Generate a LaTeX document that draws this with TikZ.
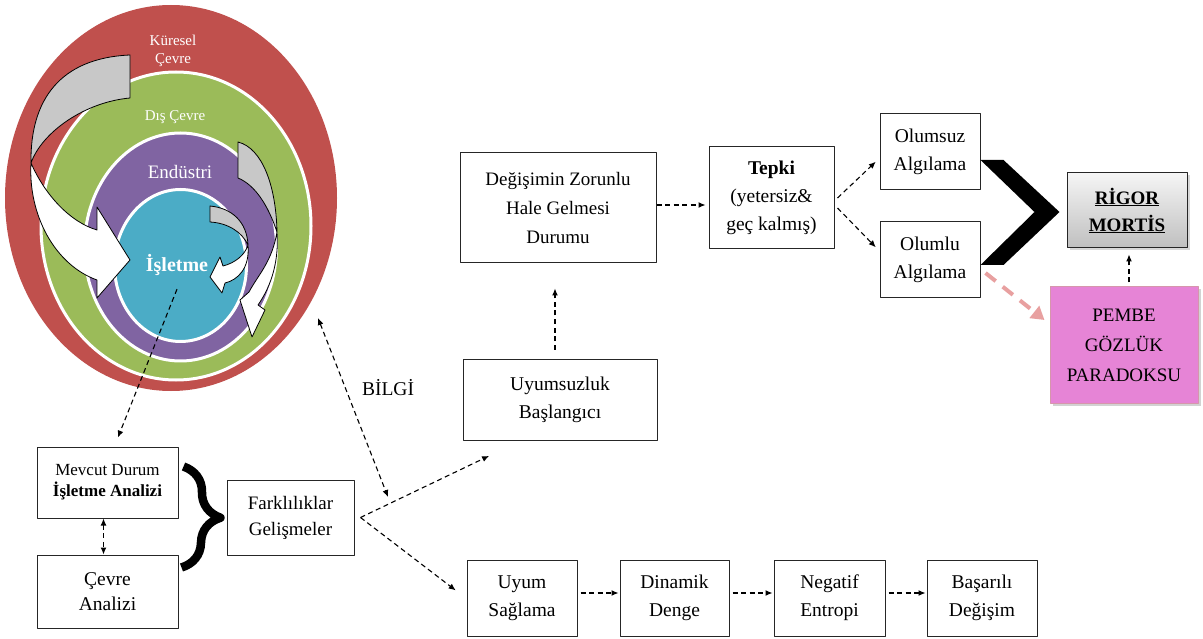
\documentclass[tikz,border=0pt]{standalone}
\usepackage{fontspec}
\setmainfont{Liberation Serif}
\usetikzlibrary{arrows.meta,shadows,decorations.pathreplacing}
\definecolor{kuresel}{RGB}{192,80,77}
\definecolor{discevre}{RGB}{155,187,89}
\definecolor{endustri}{RGB}{128,100,162}
\definecolor{isletme}{RGB}{75,172,198}
\definecolor{pembe}{RGB}{230,132,214}
\definecolor{pembekenar}{RGB}{214,150,172}
\definecolor{somon}{RGB}{232,160,160}
\definecolor{sirt}{RGB}{200,200,200}
\tikzset{
	kutu/.style={draw=black!85, line width=1pt, align=center, inner sep=2pt},
	katman/.style={text=white, align=center, font=\fontsize{15}{17.5}\selectfont},
	oklu/.style={->, dash pattern=on 5pt off 3.5pt, line width=1.1pt, shorten >=1pt},
	ciftoklu/.style={<->, dash pattern=on 5pt off 3.5pt, line width=1.1pt},
	sirtok/.style={fill=sirt, draw=black, line width=0.8pt},
	onok/.style={fill=white, draw=black, line width=0.8pt},
	parantez/.style={decorate, decoration={brace, amplitude=38pt}, line width=8.5pt}
}
\begin{document}
\begin{tikzpicture}[x=1pt, y=-1pt, >={Latex[length=7pt,width=6pt]}, font=\fontsize{19.5}{28}\selectfont, line join=round]
	\useasboundingbox (0,0) rectangle (1203,639);
	% çevre katmanları
	\fill[kuresel] (171,198) ellipse [x radius=166, y radius=193];
	\filldraw[fill=discevre, draw=white, line width=3pt] (176,226) ellipse [x radius=135, y radius=154];
	\filldraw[fill=endustri, draw=white, line width=3pt] (180.5,247) ellipse [x radius=96, y radius=114];
	\filldraw[fill=isletme, draw=white, line width=3pt] (180.5,265.5) ellipse [x radius=66, y radius=76];
	% kıvrık oklar
	\draw[sirtok] (130,55) .. controls (60,58) and (30,100) .. (31,163) .. controls (42,132) and (85,102) .. (130,98) -- cycle;
	\draw[onok] (31,163) .. controls (45,195) and (70,222) .. (97,230) -- (97,207) -- (130,260) -- (97,298) -- (97,280) .. controls (55,265) and (28,215) .. cycle;
	\draw[sirtok] (238,142) .. controls (262,148) and (276,185) .. (277,232) .. controls (268,205) and (255,185) .. (238,178) -- cycle;
	\draw[onok] (277,232) .. controls (272,262) and (258,275) .. (249,292) -- (240,300) -- (252,337) -- (265,310) -- (258,305) .. controls (272,285) and (279,260) .. cycle;
	\draw[sirtok] (210,206) .. controls (232,208) and (247,222) .. (248,245) .. controls (242,232) and (228,223) .. (210,222) -- cycle;
	\draw[onok] (248,245) .. controls (245,255) and (235,263) .. (223,266) -- (220,257) -- (210,277) -- (222,293) -- (225,283) .. controls (238,280) and (250,268) .. cycle;
	\node[katman] (kuresel) at (173,51) {Küresel\\Çevre};
	\node[katman] (dis) at (175,117) {Dış Çevre};
	\node[katman, font=\fontsize{19}{22}\selectfont] (endustri) at (180,172) {Endüstri};
	\node[katman, font=\fontsize{20}{22}\bfseries] (isletme) at (177,265) {İşletme};
	% kutular
	\node[kutu, minimum width=141pt, minimum height=71pt, font=\fontsize{17}{21}\selectfont] (mevcut) at (107.5,482.5) {Mevcut Durum\\\textbf{İşletme Analizi}};
	\node[kutu, minimum width=141pt, minimum height=73pt, font=\fontsize{19.5}{25}\selectfont] (cevre) at (107.5,591.5) {Çevre\\Analizi};
	\node[kutu, minimum width=127pt, minimum height=75pt, font=\fontsize{19}{26}\selectfont] (fark) at (290.5,517.5) {Farklılıklar\\Gelişmeler};
	\node[kutu, minimum width=194pt, minimum height=81pt] (uyumsuz) at (560,399.5) {Uyumsuzluk\\Başlangıcı};
	\node[kutu, minimum width=196pt, minimum height=110pt, font=\fontsize{19}{29}\selectfont] (degisim) at (558,208) {Değişimin Zorunlu\\Hale Gelmesi\\Durumu};
	\node[kutu, minimum width=125pt, minimum height=102pt] (tepki) at (771.5,198) {\textbf{Tepki}\\(yetersiz\&\\geç kalmış)};
	\node[kutu, minimum width=100pt, minimum height=76pt] (olumsuz) at (930,152) {Olumsuz\\Algılama};
	\node[kutu, minimum width=100pt, minimum height=76pt] (olumlu) at (930,260) {Olumlu\\Algılama};
	\node[kutu, minimum width=120pt, minimum height=75pt, top color=gray!8, bottom color=gray!50, drop shadow={shadow xshift=2.5pt, shadow yshift=-2.5pt, fill=gray!60}, font=\fontsize{19}{27}\bfseries] (rigor) at (1127,210.5) {\underline{RİGOR}\\\underline{MORTİS}};
	\node[kutu, draw=pembekenar, fill=pembe, minimum width=148pt, minimum height=116pt, drop shadow={shadow xshift=2.5pt, shadow yshift=-2.5pt, fill=gray!70}, font=\fontsize{19}{30}\selectfont] (pembe) at (1124,345) {PEMBE\\GÖZLÜK\\PARADOKSU};
	\node[kutu, minimum width=110pt, minimum height=76pt] (uyum) at (522,598) {Uyum\\Sağlama};
	\node[kutu, minimum width=109pt, minimum height=76pt] (dinamik) at (674.5,598) {Dinamik\\Denge};
	\node[kutu, minimum width=111pt, minimum height=76pt] (negatif) at (829.5,598) {Negatif\\Entropi};
	\node[kutu, minimum width=110pt, minimum height=76pt] (basarili) at (982,598) {Başarılı\\Değişim};
	\node[font=\fontsize{19.5}{22}\selectfont] (bilgi) at (388,388) {BİLGİ};
	% bağlantılar
	\draw[oklu] ([yshift=-10pt]isletme.south) -- ([xshift=10pt,yshift=8pt]mevcut.north);
	\draw[ciftoklu] ([xshift=-4pt]mevcut.south) -- ([xshift=-4pt]cevre.north);
	\draw[parantez] ([xshift=5pt,yshift=-20pt]mevcut.north east) -- ([xshift=3pt,yshift=24pt]cevre.east);
	\coordinate (bilgiust) at (318,318);
	\coordinate (bilgialt) at (388,497);
	\draw[ciftoklu] (bilgiust) -- (bilgialt);
	\coordinate (f) at ([xshift=6pt]fark.east);
	\draw[oklu] (f) -- ([xshift=-70pt,yshift=-15pt]uyumsuz.south);
	\draw[oklu] (f) -- ([xshift=-10pt,yshift=7pt]uyum.west);
	\draw[oklu] ([xshift=-5pt,yshift=9pt]uyumsuz.north) -- ([xshift=-3pt,yshift=-24pt]degisim.south);
	\draw[oklu] ([yshift=3pt]degisim.east) -- ([xshift=-2pt,yshift=-7pt]tepki.west);
	\draw[oklu] ([xshift=3pt]tepki.east) -- ([xshift=-3pt,yshift=-9pt]olumsuz.west);
	\draw[oklu] ([xshift=3pt,yshift=-10pt]tepki.east) -- ([xshift=-3pt,yshift=12pt]olumlu.west);
	\fill ([yshift=-8pt]olumsuz.east) -- ++(23,0) -- ([xshift=-7pt,yshift=-1.5pt]rigor.west) -- ([xshift=23pt,yshift=-5pt]olumlu.east) -- ([yshift=-5pt]olumlu.east) -- ([xshift=-32pt,yshift=-1.5pt]rigor.west) -- cycle;
	\draw[oklu] ([xshift=5pt,yshift=4pt]pembe.north) -- ([xshift=2pt,yshift=-5pt]rigor.south);
	\draw[somon, line width=4pt, dash pattern=on 13pt off 9pt, -{Triangle[length=13pt,width=15pt]}] ([xshift=5pt,yshift=-13pt]olumlu.east) -- ([xshift=-5pt,yshift=25pt]pembe.west);
	\foreach \bir/\iki in {uyum/dinamik,dinamik/negatif,negatif/basarili}
	\draw[oklu, shorten <=3pt] ([yshift=5pt]\bir.east) -- ([yshift=5pt]\iki.west);
\end{tikzpicture}
\end{document}
